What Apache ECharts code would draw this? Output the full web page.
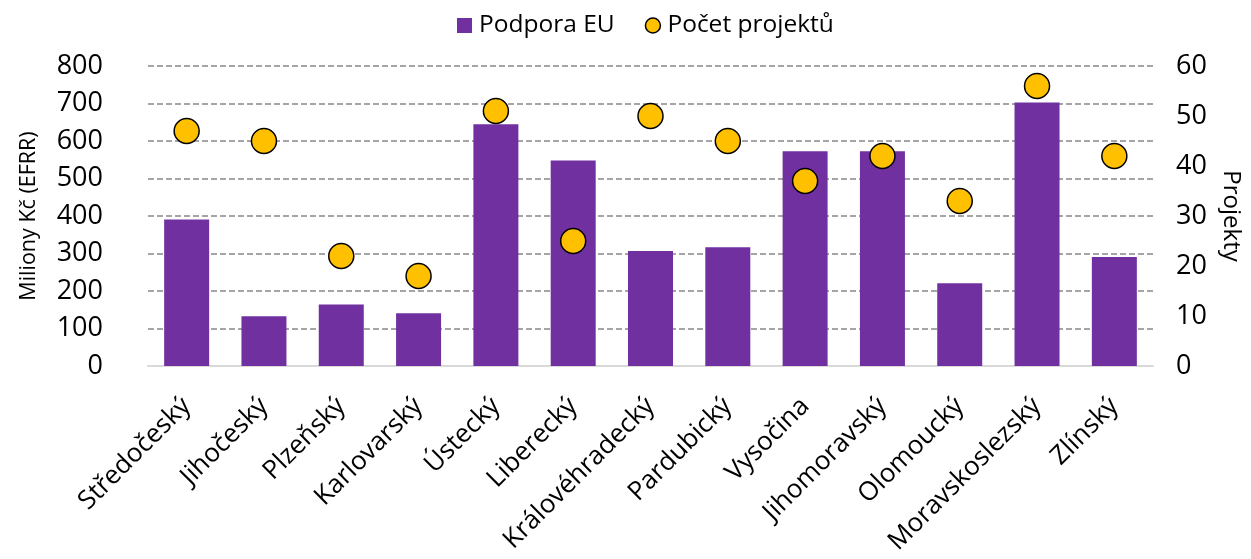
<!DOCTYPE html>
<html>
<head>
<meta charset="utf-8">
<script src="https://cdn.jsdelivr.net/npm/echarts@6/dist/echarts.min.js"></script>
<style>
  html, body { margin: 0; padding: 0; background: #fff; }
  #chart { width: 1251px; height: 559px; }
</style>
</head>
<body>
<div id="chart"></div>
<script>
// kraje
const regions = [
  "Středočeský", "Jihočeský", "Plzeňský", "Karlovarský", "Ústecký", "Liberecký",
  "Královéhradecký", "Pardubický", "Vysočina", "Jihomoravský", "Olomoucký",
  "Moravskoslezský", "Zlínský"
];
// Podpora EU, mil. Kč
const support = [391, 133, 164, 141, 645, 548, 307, 317, 573, 573, 221, 703, 291];
// Počet projektů
const projects = [47, 45, 22, 18, 51, 25, 50, 45, 37, 42, 33, 56, 42];

const font = "Open Sans";
const chart = echarts.init(document.getElementById("chart"));

const option = {
  animation: false,
  textStyle: { fontFamily: font, color: "#000" },
  legend: {
    top: 8,
    left: 452,
    itemGap: 30,
    itemWidth: 15,
    itemHeight: 15,
    textStyle: { fontFamily: font, fontSize: 24.5, color: "#000", padding: [0, 0, 0, 2] },
    data: [
      { name: "Podpora EU", icon: "rect" },
      { name: "Počet projektů", icon: "circle", itemStyle: { borderWidth: 1.5 } }
    ]
  },
  grid: { left: 148, right: 91, top: 66, bottom: 193 },
  xAxis: {
    type: "category",
    data: regions,
    axisLine: { lineStyle: { color: "#d9d9d9", width: 2 } },
    axisTick: { show: false },
    axisLabel: {
      rotate: 45,
      interval: 0,
      margin: 36,
      fontSize: 26,
      fontFamily: font,
      color: "#000"
    }
  },
  yAxis: [
    {
      type: "value",
      min: 0,
      max: 800,
      interval: 100,
      name: "Miliony Kč (EFRR)",
      nameLocation: "middle",
      nameGap: 108,
      nameTextStyle: { fontSize: 21.5, fontFamily: font, color: "#000" },
      axisLine: { show: false },
      axisTick: { show: false },
      axisLabel: { fontSize: 27, margin: 45, fontFamily: font, color: "#000" },
      splitLine: { lineStyle: { color: "#888", type: [6, 3], width: 1.5 } }
    },
    {
      type: "value",
      min: 0,
      max: 60,
      interval: 10,
      name: "Projekty",
      nameLocation: "middle",
      nameRotate: -90,
      nameGap: 66,
      nameTextStyle: { fontSize: 24, fontFamily: font, color: "#000" },
      axisLine: { show: false },
      axisTick: { show: false },
      axisLabel: { fontSize: 27, margin: 23, fontFamily: font, color: "#000" },
      splitLine: { show: false }
    }
  ],
  series: [
    {
      name: "Podpora EU",
      type: "bar",
      data: support,
      barWidth: 45,
      itemStyle: { color: "#7030A0" }
    },
    {
      name: "Počet projektů",
      type: "scatter",
      yAxisIndex: 1,
      data: projects,
      symbol: "circle",
      symbolSize: 25,
      itemStyle: { color: "#FFC000", borderColor: "#000", borderWidth: 1.5, opacity: 1 }
    }
  ]
};

chart.setOption(option);
</script>
</body>
</html>
